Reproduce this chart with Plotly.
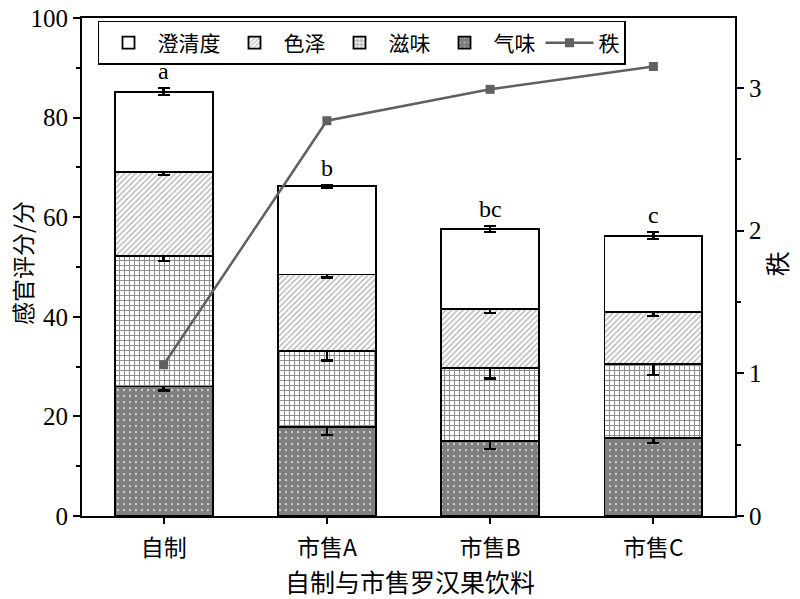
import plotly.graph_objects as go

categories = ["自制", "市售A", "市售B", "市售C"]
qiwei = [26.0, 17.8, 15.0, 15.7]          # 气味
ziwei = [26.2, 15.4, 14.8, 14.8]          # 滋味
sezhe = [16.8, 15.3, 11.7, 10.5]          # 色泽
chengqing = [16.2, 17.7, 16.1, 15.3]      # 澄清度
qiwei_err = [0.8, 1.5, 1.5, 1.0]
ziwei_err = [1.0, 2.0, 2.2, 2.2]
sezhe_err = [0.5, 0.6, 0.7, 0.8]
chengqing_err = [0.7, 0.3, 0.6, 0.7]
rank = [1.06, 2.77, 2.99, 3.15]
sig_letters = ["a", "b", "bc", "c"]

serif = "Liberation Serif, Times New Roman, serif"
cjk = "Noto Sans CJK SC, Liberation Serif, serif"

def err(vals):
    return dict(type="data", array=vals, visible=True, color="black", thickness=2.5, width=6)

fig = go.Figure()
common_line = dict(color="black", width=1.8)
fig.add_bar(x=categories, y=qiwei, name="气味", legendrank=4, width=0.6,
            marker=dict(color="white", line=common_line,
                        pattern=dict(shape=".", size=6, solidity=0.85, fgcolor="black", bgcolor="white")),
            error_y=err(qiwei_err))
fig.add_bar(x=categories, y=ziwei, name="滋味", legendrank=3, width=0.6,
            marker=dict(color="white", line=common_line,
                        pattern=dict(shape="+", size=5, solidity=0.4, fgcolor="#222", bgcolor="white")),
            error_y=err(ziwei_err))
fig.add_bar(x=categories, y=sezhe, name="色泽", legendrank=2, width=0.6,
            marker=dict(color="white", line=common_line,
                        pattern=dict(shape="/", size=4, solidity=0.35, fgcolor="#666", bgcolor="white")),
            error_y=err(sezhe_err))
fig.add_bar(x=categories, y=chengqing, name="澄清度", legendrank=1, width=0.6,
            marker=dict(color="white", line=common_line),
            error_y=err(chengqing_err))
fig.add_scatter(x=categories, y=rank, name="秩", legendrank=5, yaxis="y2", mode="lines+markers",
                line=dict(color="#606060", width=2.5),
                marker=dict(symbol="square", size=9, color="#606060"))

totals = [a + b + c + d for a, b, c, d in zip(qiwei, ziwei, sezhe, chengqing)]
for cat, tot, e, lab in zip(categories, totals, chengqing_err, sig_letters):
    fig.add_annotation(x=cat, y=tot + e + 0.4, text=lab, showarrow=False, yanchor="bottom",
                       font=dict(family=serif, size=24, color="black"))

# axis titles
fig.add_annotation(xref="paper", yref="paper", x=-0.092, y=0.508, text="感官评分/分", textangle=-90,
                   showarrow=False, xanchor="center", yanchor="middle",
                   font=dict(family=cjk, size=23, color="black"))
fig.add_annotation(xref="paper", yref="paper", x=1.063, y=0.506, text="秩", textangle=-90,
                   showarrow=False, xanchor="center", yanchor="middle",
                   font=dict(family=cjk, size=25, color="black"))
fig.add_annotation(xref="paper", yref="paper", x=0.502, y=-0.1305, text="自制与市售罗汉果饮料",
                   showarrow=False, xanchor="center", yanchor="middle",
                   font=dict(family=cjk, size=25, color="black"))

fig.update_layout(
    width=800, height=599,
    margin=dict(l=82, r=65, t=18, b=83),
    barmode="stack",
    plot_bgcolor="white", paper_bgcolor="white",
    font=dict(family=cjk, color="black"),
    showlegend=True,
    legend=dict(orientation="h", x=0.0245, y=0.994, xanchor="left", yanchor="top",
                bordercolor="black", borderwidth=1.5, bgcolor="white", traceorder="normal",
                font=dict(family=cjk, size=21), itemwidth=48, tracegroupgap=0),
    xaxis=dict(range=[-0.5, 3.5], showline=True, linecolor="black", linewidth=2, mirror=True,
               automargin=False, ticklabelstandoff=4,
               ticks="outside", ticklen=6, tickwidth=2, tickcolor="black",
               tickfont=dict(family=cjk, size=23),
               minor=dict(ticks="outside", ticklen=4, tickwidth=2, tickcolor="black", dtick=0.5, tick0=-0.5)),
    yaxis=dict(range=[0, 100], dtick=20, showline=True, linecolor="black", linewidth=2,
               automargin=False, ticklabeloverflow="allow",
               ticks="outside", ticklen=7, tickwidth=2, tickcolor="black", showgrid=False, zeroline=False,
               tickfont=dict(family=serif, size=25),
               minor=dict(ticks="outside", ticklen=4, tickwidth=2, tickcolor="black", dtick=10)),
    yaxis2=dict(range=[0, 3.49], dtick=1, overlaying="y", side="right", showline=True, linecolor="black",
                automargin=False, ticklabeloverflow="allow",
                linewidth=2, ticks="outside", ticklen=7, tickwidth=2, tickcolor="black", showgrid=False,
                zeroline=False, tickfont=dict(family=serif, size=25),
                minor=dict(ticks="outside", ticklen=4, tickwidth=2, tickcolor="black", dtick=0.5)),
)
fig.write_html("out.html", config={"displayModeBar": False},
               post_script="document.body.style.margin='0';")
